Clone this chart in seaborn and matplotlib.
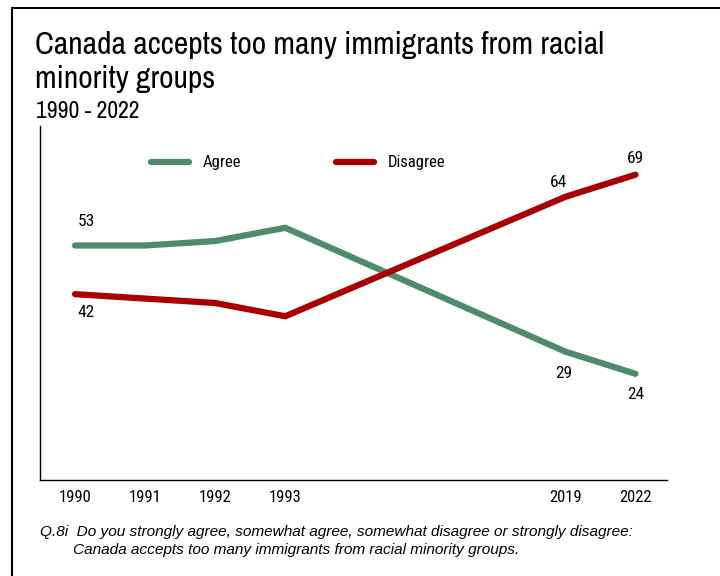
import matplotlib
matplotlib.use("Agg")
import matplotlib.pyplot as plt
from matplotlib.lines import Line2D
import seaborn as sns
import pandas as pd

# Données
years = ["1990", "1991", "1992", "1993", "2019", "2022"]
agree = [53, 53, 54, 57, 29, 24]
disagree = [42, 41, 40, 37, 64, 69]

GREEN = "#4E8A6C"
RED = "#A80000"
TITLE_FONT = ["Archivo Narrow", "DejaVu Sans"]
LABEL_FONT = ["Roboto Condensed", "DejaVu Sans"]
NOTE_FONT = ["Liberation Sans", "DejaVu Sans"]

sns.set_theme(style="white")
plt.rcParams["font.family"] = LABEL_FONT
plt.rcParams["text.color"] = "black"
plt.rcParams["xtick.color"] = "black"

# position sur l'axe : saut de 3 entre 1993 et 2019
pos = [i if i < 4 else i + 3 for i in range(len(years))]

df = pd.DataFrame({
    "pos": pos * 2,
    "value": agree + disagree,
    "serie": ["Agree"] * len(years) + ["Disagree"] * len(years),
})

fig = plt.figure(figsize=(7.2, 5.76), dpi=100)
ax = fig.add_axes([40 / 720, 1 - 480 / 576, 627 / 720, 354 / 576])

sns.lineplot(data=df, x="pos", y="value", hue="serie",
             palette={"Agree": GREEN, "Disagree": RED},
             lw=4.5, legend=False, ax=ax, solid_capstyle="round")

ax.set_xlim(-0.5, 8.45)
ax.set_ylim(0, 80)
ax.set_xticks(pos)
ax.set_xticklabels(years, fontsize=12)
ax.set_yticks([])
ax.set_xlabel("")
ax.set_ylabel("")
ax.tick_params(axis="x", length=0, pad=7)
for s in ["top", "right"]:
    ax.spines[s].set_visible(False)
for s in ["left", "bottom"]:
    ax.spines[s].set_color("black")
    ax.spines[s].set_linewidth(1)

# Étiquettes de valeurs
lab_kw = dict(fontsize=12.5, ha="center", va="center", color="black")
ax.annotate(str(agree[0]), (pos[0], agree[0]), xytext=(8, 17), textcoords="offset points", **lab_kw)
ax.annotate(str(disagree[0]), (pos[0], disagree[0]), xytext=(8, -13), textcoords="offset points", **lab_kw)
ax.annotate(str(agree[4]), (pos[4], agree[4]), xytext=(-1, -16), textcoords="offset points", **lab_kw)
ax.annotate(str(agree[5]), (pos[5], agree[5]), xytext=(0, -15), textcoords="offset points", **lab_kw)
ax.annotate(str(disagree[4]), (pos[4], disagree[4]), xytext=(-5, 10), textcoords="offset points", **lab_kw)
ax.annotate(str(disagree[5]), (pos[5], disagree[5]), xytext=(0, 12), textcoords="offset points", **lab_kw)

# Légende
handles = [Line2D([], [], color=GREEN, lw=4.5, solid_capstyle="round"),
           Line2D([], [], color=RED, lw=4.5, solid_capstyle="round")]
fig.legend(handles, ["Agree", "Disagree"], loc="center left",
           bbox_to_anchor=(151 / 720, 1 - 163 / 576), ncol=2, frameon=False,
           fontsize=12, handlelength=2.3, handletextpad=0.8,
           columnspacing=5.7, borderpad=0, borderaxespad=0)

# Titres
fig.text(35 / 720, 1 - 54 / 576, "Canada accepts too many immigrants from racial",
         fontsize=22.8, va="baseline", ha="left", family=TITLE_FONT)
fig.text(35 / 720, 1 - 88 / 576, "minority groups", fontsize=22.8, va="baseline", ha="left",
         family=TITLE_FONT)
fig.text(36 / 720, 1 - 118 / 576, "1990 - 2022", fontsize=17, va="baseline", ha="left",
         family=TITLE_FONT)

# Note de bas de page
fig.text(40 / 720, 1 - 536 / 576,
         "Q.8i  Do you strongly agree, somewhat agree, somewhat disagree or strongly disagree:",
         fontsize=11.1, style="italic", va="baseline", ha="left", family=NOTE_FONT)
fig.text(73 / 720, 1 - 554 / 576,
         "Canada accepts too many immigrants from racial minority groups.",
         fontsize=11.1, style="italic", va="baseline", ha="left", family=NOTE_FONT)

# Cadre
fig.add_artist(Line2D([12 / 720, 12 / 720], [0, 1 - 8 / 576], color="black", lw=1.5,
                      transform=fig.transFigure))
fig.add_artist(Line2D([12 / 720, 1], [1 - 8 / 576, 1 - 8 / 576], color="black", lw=1.5,
                      transform=fig.transFigure))

fig.savefig("out.png", dpi=100)
